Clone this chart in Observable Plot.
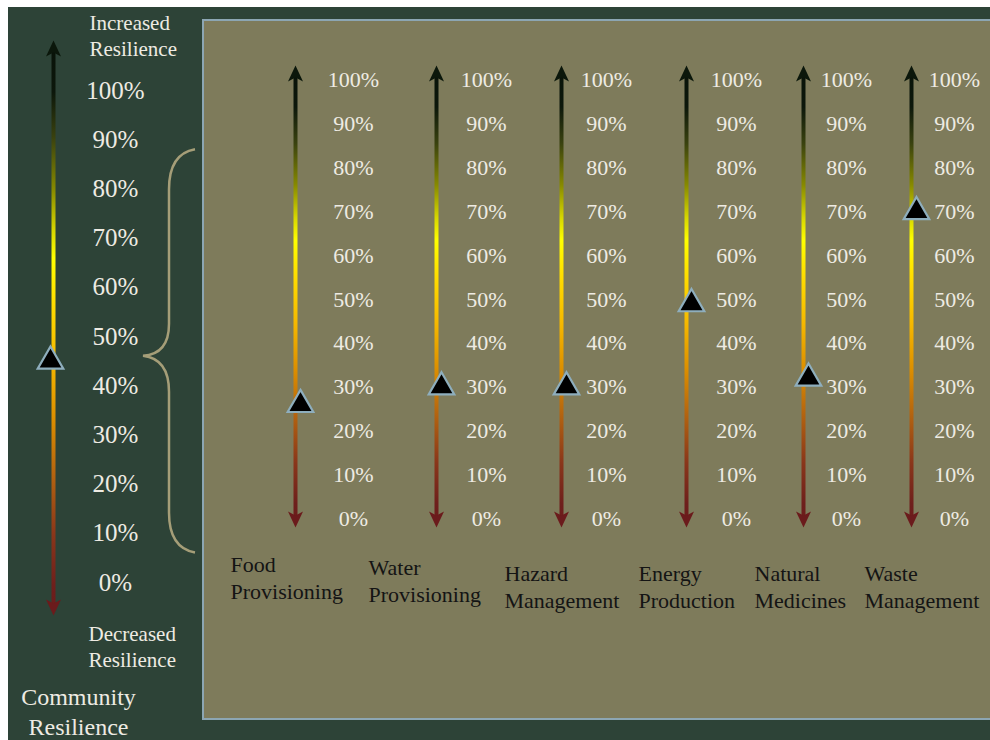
<!DOCTYPE html>
<html>
<head>
<meta charset="utf-8">
<script src="https://cdn.jsdelivr.net/npm/d3@7"></script>
<script src="https://cdn.jsdelivr.net/npm/@observablehq/plot@0.6"></script>
<style>
  html, body { margin: 0; padding: 0; background: #ffffff; }
  #root { position: relative; width: 990px; height: 740px; overflow: hidden; background: #ffffff; }
  #bg { position: absolute; left: 8px; top: 7px; right: 0; bottom: 0; background: #2d4337; }
  #panel { position: absolute; left: 202px; top: 19px; width: 800px; height: 697px; background: #7e7b5b; border: 2px solid #8ca6b3; }
  .layer { position: absolute; left: 0; top: 0; }
</style>
</head>
<body>
<div id="root">
  <div id="bg"></div>
  <div id="panel"></div>
  <div class="layer" id="left"></div>
  <div class="layer" id="main"></div>
</div>
<script>
// ---------------- data ----------------
const services = ["Food Provisioning", "Water Provisioning", "Hazard Management",
                  "Energy Production", "Natural Medicines", "Waste Management"];
const serviceValues = [26, 30, 30, 49, 32, 70];
const communityLabel = "Community Resilience";
const communityValue = 45;
const tickValues = [0, 10, 20, 30, 40, 50, 60, 70, 80, 90, 100];
const tickLabels = tickValues.map(v => v + "%");

// ---------------- layout ----------------
const FONT = "'Liberation Serif', 'Times New Roman', serif";
const columnX = [295, 436, 561, 686, 803, 911];      // x-scale range for the six arrows
const tickDx = [58, 50, 45, 50, 43, 43];              // tick label offset per column
const catDx = [-65, -68, -57, -48, -49, -47];          // category label offset per column
const catTop = [553, 556, 562, 562, 562, 562];         // category label top per column

const rows = services.map((s, i) => ({i, service: s, value: serviceValues[i]}));

const headUp = {draw(ctx) { ctx.moveTo(0, 0); ctx.lineTo(7.5, 16); ctx.lineTo(0, 12); ctx.lineTo(-7.5, 16); ctx.closePath(); }};
const headDown = {draw(ctx) { ctx.moveTo(0, 0); ctx.lineTo(7.5, -16); ctx.lineTo(0, -12); ctx.lineTo(-7.5, -16); ctx.closePath(); }};

const stops = [
  [0, "#081208"], [0.09, "#0c170b"], [0.17, "#3a420f"], [0.26, "#878a00"],
  [0.33, "#d6d600"], [0.38, "#ffff00"], [0.46, "#ffdc00"], [0.56, "#f5b800"],
  [0.66, "#dc8e00"], [0.76, "#b26210"], [0.86, "#8a361a"], [0.95, "#6e1f1c"], [1, "#6a1b1b"]
];

function addGradient(svg, id, y1, y2) {
  const g = d3.select(svg).insert("defs", ":first-child").append("linearGradient")
    .attr("id", id).attr("gradientUnits", "userSpaceOnUse")
    .attr("x1", 0).attr("x2", 0).attr("y1", y1).attr("y2", y2);
  for (const [o, c] of stops) g.append("stop").attr("offset", o).attr("stop-color", c);
}

// ---------------- left panel (community) ----------------
const leftDomain = [-6.7, 110.2];
const leftPlot = Plot.plot({
  width: 990, height: 740, margin: 0,
  style: {background: "transparent", overflow: "visible"},
  x: {type: "linear", domain: [0, 1], range: [53, 54], axis: null},
  y: {type: "linear", domain: leftDomain, range: [615, 40], axis: null},
  marks: [
    Plot.ruleX([communityLabel], {x: () => 0, y1: () => leftDomain[1], y2: () => leftDomain[0],
      stroke: "url(#gradLeft)", strokeWidth: 4, insetTop: 10, insetBottom: 10}),
    Plot.dot([communityLabel], {x: () => 0, y: () => leftDomain[1], symbol: headUp, r: 6, fill: "#0b170b", stroke: "none"}),
    Plot.dot([communityLabel], {x: () => 0, y: () => leftDomain[0], symbol: headDown, r: 6, fill: "#6b1b1c", stroke: "none"}),
    Plot.text(tickValues, {x: () => 0, y: d => d, text: (d, i) => tickLabels[i], dx: 62,
      textAnchor: "middle", fill: "#eeebe3", fontSize: 25, fontFamily: FONT}),
    Plot.dot([communityValue], {x: () => 0, y: d => d, symbol: "triangle", r: 9.5, dx: -3,
      fill: "#000000", stroke: "#8eaebd", strokeWidth: 2.2}),
    Plot.text(["Increased\nResilience"], {frameAnchor: "top-left", dx: 89, dy: 11, text: d => d,
      textAnchor: "start", lineAnchor: "top", lineHeight: 1.24, fill: "#eeebe3", fontSize: 21, fontFamily: FONT}),
    Plot.text(["Decreased\nResilience"], {frameAnchor: "top-left", dx: 88, dy: 622, text: d => d,
      textAnchor: "start", lineAnchor: "top", lineHeight: 1.24, fill: "#eeebe3", fontSize: 21, fontFamily: FONT}),
    Plot.text([communityLabel], {frameAnchor: "top-left", dx: 78, dy: 684, text: d => d.replace(" ", "\n"),
      textAnchor: "middle", lineAnchor: "top", lineHeight: 1.22, fill: "#eeebe3", fontSize: 24, fontFamily: FONT})
  ]
});
{
  const ys = leftPlot.scale("y");
  addGradient(leftPlot, "gradLeft", ys.apply(leftDomain[1]), ys.apply(leftDomain[0]));
  // brace grouping the six services, pointing at the community value
  const yt = ys.apply(88), ym = ys.apply(46), yb = ys.apply(6);
  d3.select(leftPlot).append("path")
    .attr("fill", "none").attr("stroke", "#a59e78").attr("stroke-width", 2.5)
    .attr("d", `M195,${yt} C178,${yt + 3} 169,${yt + 15} 169,${yt + 40} L169,${ym - 32}
      C169,${ym - 12} 160,${ym - 1} 143,${ym} C160,${ym + 2} 169,${ym + 14} 169,${ym + 36}
      L169,${yb - 40} C169,${yb - 15} 178,${yb - 3} 195,${yb}`);
}
document.getElementById("left").appendChild(leftPlot);

// ---------------- main panel (services) ----------------
const mainDomain = [-2.05, 103.4];
const marks = [
  Plot.ruleX(rows, {x: "i", y1: () => mainDomain[1], y2: () => mainDomain[0],
    stroke: "url(#gradMain)", strokeWidth: 4, insetTop: 10, insetBottom: 10}),
  Plot.dot(rows, {x: "i", y: () => mainDomain[1], symbol: headUp, r: 6, fill: "#0b170b", stroke: "none"}),
  Plot.dot(rows, {x: "i", y: () => mainDomain[0], symbol: headDown, r: 6, fill: "#6b1b1c", stroke: "none"})
];
services.forEach((s, i) => {
  marks.push(Plot.text(tickValues, {x: () => i, y: d => d, text: (d, k) => tickLabels[k], dx: tickDx[i],
    textAnchor: "middle", fill: "#eeebe3", fontSize: 22, fontFamily: FONT}));
  marks.push(Plot.text([s], {x: () => i, frameAnchor: "top", dx: catDx[i], dy: catTop[i],
    text: d => d.replace(" ", "\n"), textAnchor: "start", lineAnchor: "top", lineHeight: 1.2,
    fill: "#141414", fontSize: 22, fontFamily: FONT}));
});
marks.push(Plot.dot(rows, {x: "i", y: "value", symbol: "triangle", r: 9.5, dx: 5,
  fill: "#000000", stroke: "#8eaebd", strokeWidth: 2.2}));

const mainPlot = Plot.plot({
  width: 990, height: 740, margin: 0,
  style: {background: "transparent", overflow: "visible"},
  x: {type: "linear", domain: services.map((s, i) => i), range: columnX, axis: null},
  y: {type: "linear", domain: mainDomain, range: [527, 65], axis: null},
  marks
});
{
  const ys = mainPlot.scale("y");
  addGradient(mainPlot, "gradMain", ys.apply(mainDomain[1]), ys.apply(mainDomain[0]));
}
document.getElementById("main").appendChild(mainPlot);
</script>
</body>
</html>
